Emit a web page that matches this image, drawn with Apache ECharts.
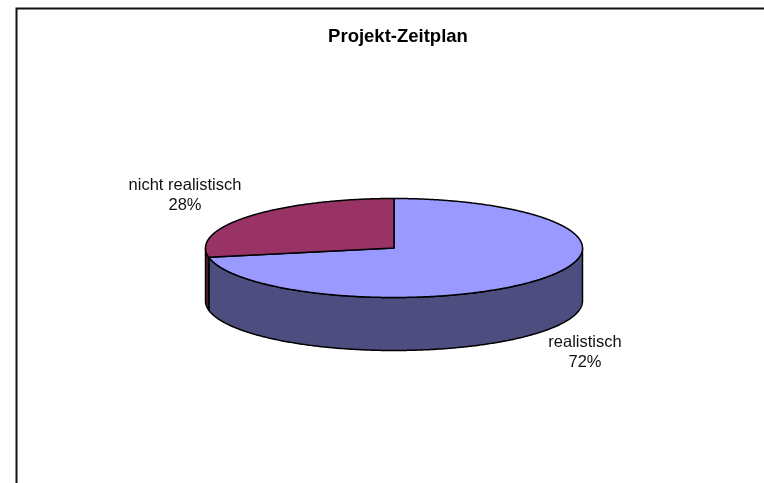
<!DOCTYPE html>
<html>
<head>
<meta charset="utf-8">
<style>html,body{margin:0;padding:0;background:#fff}#c{width:764px;height:483px}</style>
<script src="https://cdn.jsdelivr.net/npm/echarts@6/dist/echarts.min.js"></script>
</head>
<body>
<div id="c"></div>
<script>
var chartTitle = 'Projekt-Zeitplan';
var categories = ['realistisch', 'nicht realistisch'];
var values = [72, 28];
var topColors = ['#9999FF', '#993366'];
var sideColors = ['#4D4D80', '#4D1A33'];

var CX = 394, CY = 248, RX = 188.5, RY = 49.5, DEPTH = 53;
var labelPos = [[585, 352], [185, 195]];
var FONT = '"Liberation Sans", Arial, sans-serif';
var total = values.reduce(function (a, b) { return a + b; }, 0);

function pt(deg, dy) {
  var r = deg * Math.PI / 180;
  return [CX + RX * Math.sin(r), CY - RY * Math.cos(r) + (dy || 0)];
}
function arc(a0, a1, dy) {
  var out = [], n = Math.max(2, Math.ceil(Math.abs(a1 - a0) * 2));
  for (var i = 0; i <= n; i++) out.push(pt(a0 + (a1 - a0) * i / n, dy));
  return out;
}
function renderItem(params, api) {
  var idx = params.dataIndex, start = 0;
  for (var i = 0; i < idx; i++) start += values[i];
  var a0 = start / total * 360;
  var a1 = (start + api.value(0)) / total * 360;
  var children = [];
  var w0 = Math.max(a0, 90), w1 = Math.min(a1, 270);
  if (w1 > w0) {
    children.push({
      type: 'polygon',
      shape: { points: arc(w0, w1, 0).concat(arc(w1, w0, DEPTH)) },
      style: { fill: sideColors[idx], stroke: '#000', lineWidth: 1.5, lineJoin: 'round' }
    });
  }
  children.push({
    type: 'polygon',
    shape: { points: [[CX, CY]].concat(arc(a0, a1, 0)) },
    style: { fill: topColors[idx], stroke: '#000', lineWidth: 1.5, lineJoin: 'round' }
  });
  children.push({
    type: 'text',
    style: {
      x: labelPos[idx][0], y: labelPos[idx][1],
      text: categories[idx] + '\n' + Math.round(api.value(0) / total * 100) + '%',
      fill: '#111', font: '16.5px ' + FONT,
      align: 'center', verticalAlign: 'middle', lineHeight: 20
    }
  });
  return { type: 'group', children: children };
}

var chart = echarts.init(document.getElementById('c'), null, { renderer: 'canvas' });
chart.setOption({
  animation: false,
  backgroundColor: '#fff',
  title: {
    text: chartTitle, left: 393, top: 22, textAlign: 'center',
    textStyle: { fontFamily: FONT, fontSize: 18.5, fontWeight: 'bold', color: '#000', lineHeight: 20 }
  },
  graphic: [{
    type: 'polyline', silent: true,
    shape: { points: [[16.5, 483], [16.5, 8.5], [764, 8.5]] },
    style: { stroke: '#111', lineWidth: 2, fill: null }
  }],
  series: [{
    type: 'custom',
    coordinateSystem: 'none',
    renderItem: renderItem,
    data: values.map(function (v, i) { return { name: categories[i], value: [v] }; })
  }]
});
</script>
</body>
</html>
